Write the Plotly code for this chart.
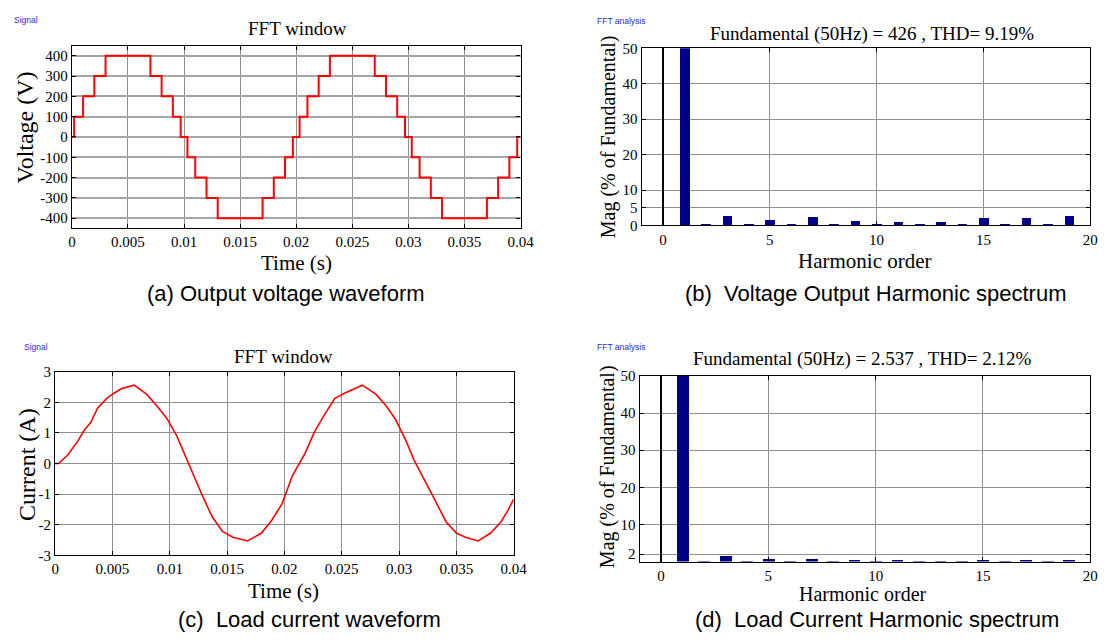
import plotly.graph_objects as go

# ---------------- data ----------------
# (a) output voltage: step levels (hold value until next time)
v_time = [0, 0.0002, 0.001, 0.002, 0.003, 0.007, 0.008, 0.009, 0.0097, 0.0103,
          0.011, 0.012, 0.013, 0.017, 0.018, 0.019, 0.0197, 0.0203, 0.021, 0.022,
          0.023, 0.027, 0.028, 0.029, 0.0297, 0.0303, 0.031, 0.032, 0.033, 0.037,
          0.038, 0.039, 0.0397, 0.04]
v_volt = [0, 100, 200, 300, 400, 300, 200, 100, 0, -100,
          -200, -300, -400, -300, -200, -100, 0, 100, 200, 300,
          400, 300, 200, 100, 0, -100, -200, -300, -400, -300,
          -200, -100, 0, 0]

# (c) load current
i_time = [0, 0.0003, 0.0011, 0.002, 0.0025, 0.0031, 0.0037, 0.0045, 0.0051, 0.0058,
          0.0069, 0.008, 0.0089, 0.0097, 0.0106, 0.0115, 0.0123, 0.0129, 0.0137, 0.0146,
          0.0155, 0.0168, 0.018, 0.0189, 0.0198, 0.0207, 0.0218, 0.0226, 0.0235, 0.0244,
          0.0252, 0.026, 0.0268, 0.028, 0.0289, 0.0297, 0.0306, 0.0313, 0.0323, 0.033,
          0.0341, 0.035, 0.0358, 0.0369, 0.038, 0.0389, 0.0395, 0.04]
i_amp = [0, 0.0, 0.28, 0.75, 1.07, 1.34, 1.81, 2.13, 2.29, 2.45,
         2.56, 2.26, 1.87, 1.5, 0.91, 0.12, -0.63, -1.1, -1.74, -2.22,
         -2.41, -2.53, -2.27, -1.85, -1.31, -0.39, 0.33, 1.02, 1.6, 2.13,
         2.29, 2.43, 2.56, 2.26, 1.87, 1.44, 0.75, 0.12, -0.63, -1.1,
         -1.9, -2.27, -2.41, -2.53, -2.27, -1.9, -1.53, -1.16]

# (b), (d) harmonic spectra (% of fundamental)
harm_order = list(range(20))
v_harm = [0.0, 100, 0.3, 2.6, 0.3, 1.5, 0.3, 2.2, 0.3, 1.2,
          0.4, 1.0, 0.3, 0.8, 0.3, 2.0, 0.3, 1.9, 0.3, 2.5]
i_harm = [0.0, 100, 0.05, 1.5, 0.05, 0.6, 0.05, 0.6, 0.05, 0.25,
          0.05, 0.2, 0.05, 0.05, 0.05, 0.2, 0.05, 0.2, 0.05, 0.2]

t_ticks = [0, 0.005, 0.01, 0.015, 0.02, 0.025, 0.03, 0.035, 0.04]
t_labels = ["0", "0.005", "0.01", "0.015", "0.02", "0.025", "0.03", "0.035", "0.04"]
v_ticks = [-400, -300, -200, -100, 0, 100, 200, 300, 400]
v_labels = ["-400", "-300", "-200", "-100", "0", "100", "200", "300", "400"]
i_ticks = [-3, -2, -1, 0, 1, 2, 3]
i_labels = ["-3", "-2", "-1", "0", "1", "2", "3"]
h_ticks = [0, 5, 10, 15, 20]
vh_ticks = [0, 5, 10, 20, 30, 40, 50]
ih_ticks = [2, 10, 20, 30, 40, 50]

# ---------------- figure ----------------
W, H = 1120, 644
SERIF = "Liberation Serif, Times New Roman, serif"
SANS = "Liberation Sans, Arial, sans-serif"

fig = go.Figure()
fig.add_trace(go.Scatter(x=v_time, y=v_volt, mode="lines", line=dict(color="#ff0000", width=2, shape="hv"),
                         xaxis="x", yaxis="y", showlegend=False))
fig.add_trace(go.Bar(x=harm_order, y=v_harm, width=0.45, marker=dict(color="#000088", line=dict(width=0)),
                     xaxis="x2", yaxis="y2", showlegend=False))
fig.add_trace(go.Scatter(x=i_time, y=i_amp, mode="lines", line=dict(color="#ff0000", width=1.6),
                         xaxis="x3", yaxis="y3", showlegend=False))
fig.add_trace(go.Bar(x=harm_order, y=i_harm, width=0.55, marker=dict(color="#000088", line=dict(width=0)),
                     xaxis="x4", yaxis="y4", showlegend=False))


def px_dom(a, b, total, flip=False):
    if flip:
        return [1 - b / total, 1 - a / total]
    return [a / total, b / total]


def ax(**kw):
    base = dict(showline=True, linecolor="black", linewidth=1.2, mirror="ticks",
                ticks="inside", ticklen=4, tickcolor="black",
                showgrid=True, gridcolor="#8f8f8f", gridwidth=1, zeroline=False,
                tickfont=dict(family=SERIF, size=15, color="black"))
    base.update(kw)
    return base


layout = dict(
    width=W, height=H, margin=dict(l=0, r=0, t=0, b=0),
    paper_bgcolor="white", plot_bgcolor="white", bargap=0,
    xaxis=ax(domain=px_dom(69, 525, W), range=[0, 0.04], tickvals=t_ticks, ticktext=t_labels, anchor="y"),
    yaxis=ax(domain=px_dom(38.5, 226, H, True), range=[-450, 450], tickvals=v_ticks, ticktext=v_labels,
             anchor="x", gridcolor="#a6a6a6", gridwidth=1.5),
    xaxis2=ax(domain=px_dom(648, 1104, W), range=[-1, 20], tickvals=h_ticks, anchor="y2",
              zeroline=True, zerolinecolor="black", zerolinewidth=1.5),
    yaxis2=ax(domain=px_dom(41.3, 223, H, True), range=[0, 50], tickvals=vh_ticks, anchor="x2"),
    xaxis3=ax(domain=px_dom(52, 518, W), range=[0, 0.04], tickvals=t_ticks, ticktext=t_labels, anchor="y3"),
    yaxis3=ax(domain=px_dom(373, 561.3, H, True), range=[-3, 3], tickvals=i_ticks, ticktext=i_labels,
              anchor="x3"),
    xaxis4=ax(domain=px_dom(646, 1104, W), range=[-1, 20], tickvals=h_ticks, anchor="y4",
              zeroline=True, zerolinecolor="black", zerolinewidth=1.5),
    yaxis4=ax(domain=px_dom(377.3, 567.7, H, True), range=[0, 50], tickvals=ih_ticks, anchor="x4"),
)
fig.update_layout(**layout)


def note(text, x, y, size, family=SERIF, color="black", angle=0):
    fig.add_annotation(text=text, x=x / W, y=1 - y / H, xref="paper", yref="paper",
                       xanchor="center", yanchor="middle", showarrow=False, textangle=angle,
                       font=dict(family=family, size=size, color=color))


# small window labels
note("Signal", 22.5, 12, 8.5, SANS, "#2b2bd6")
note("Signal", 32.5, 348, 8.5, SANS, "#2b2bd6")
note("FFT analysis", 627.7, 13.3, 8.5, SANS, "#2b2bd6")
note("FFT analysis", 627.7, 348, 8.5, SANS, "#2b2bd6")

# titles
note("FFT window", 298.5, 20.7, 19)
note("Fundamental (50Hz) = 426 , THD= 9.19%", 882, 26.7, 19)
note("FFT window", 284, 357.3, 19)
note("Fundamental (50Hz) = 2.537 , THD= 2.12%", 872, 360, 19)

# axis titles
note("Voltage (V)", 21, 123, 24, angle=-90)
note("Time (s)", 297, 262, 21)
note("Mag (% of Fundamental)", 614.7, 131.7, 20, angle=-90)
note("Harmonic order", 874.7, 259, 21)
note("Current (A)", 24, 468, 24, angle=-90)
note("Time (s)", 284, 598, 21)
note("Mag (% of Fundamental)", 613, 470.7, 20, angle=-90)
note("Harmonic order", 873, 601, 20)

# captions
note("(a) Output voltage waveform", 287, 293, 22, SANS)
note("(b)\u00a0\u00a0Voltage Output Harmonic spectrum", 886, 293, 22, SANS)
note("(c)\u00a0\u00a0Load current waveform", 310.6, 627, 22, SANS)
note("(d)\u00a0\u00a0Load Current Harmonic spectrum", 887, 627, 22, SANS)

fig.write_html("out.html", config={"displayModeBar": False},
               post_script="document.body.style.margin='0';document.body.style.overflow='hidden';")
